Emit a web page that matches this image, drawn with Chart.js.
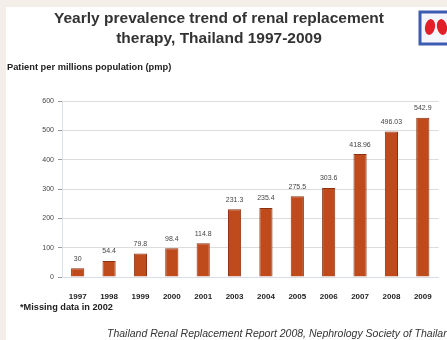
<!DOCTYPE html>
<html>
<head>
<meta charset="utf-8">
<script src="https://cdn.jsdelivr.net/npm/chart.js@4.4.0/dist/chart.umd.min.js"></script>
<style>
  html, body { margin: 0; padding: 0; }
  body { width: 447px; height: 340px; background: #f3efe8; position: relative; overflow: hidden;
         font-family: "Liberation Sans", Arial, sans-serif; }
  #slide { position: absolute; left: 6px; top: 7px; width: 441px; height: 333px; background: #fff; }
  #chartBox { position: absolute; left: 0; top: 0; width: 447px; height: 340px; }
  .txt { position: absolute; white-space: nowrap; color: #222; }
  #title { left: 0; width: 438px; top: 8px; text-align: center; font-weight: bold; font-size: 15.5px; line-height: 20px; color: #333; }
  #ycap { left: 7px; top: 62px; font-size: 9.3px; font-weight: bold; }
  #foot { left: 20px; top: 302px; font-size: 9.2px; font-weight: bold; }
  #src { left: 107px; top: 327px; font-size: 10.5px; font-style: italic; color: #333; }
</style>
</head>
<body>
<div id="slide"></div>
<div id="chartBox"><canvas id="c" width="447" height="340"></canvas></div>
<div class="txt" id="title">Yearly prevalence trend of renal replacement<br>therapy, Thailand 1997-2009</div>
<div class="txt" id="ycap">Patient per millions population (pmp)</div>
<div class="txt" id="foot">*Missing data in 2002</div>
<div class="txt" id="src">Thailand Renal Replacement Report 2008, Nephrology Society of Thailand</div>
<script>
const years = ['1997', '1998', '1999', '2000', '2001', '2003', '2004', '2005', '2006', '2007', '2008', '2009'];
const prevalence = [30, 54.4, 79.8, 98.4, 114.8, 231.3, 235.4, 275.5, 303.6, 418.96, 496.03, 542.9];
const valueLabels = ['30', '54.4', '79.8', '98.4', '114.8', '231.3', '235.4', '275.5', '303.6', '418.96', '496.03', '542.9'];
const yTicks = [0, 100, 200, 300, 400, 500, 600];

// value labels above each bar
const barLabels = {
  id: 'barLabels',
  afterDatasetsDraw(chart) {
    const ctx = chart.ctx;
    const meta = chart.getDatasetMeta(0);
    ctx.save();
    ctx.font = '7px "Liberation Sans", Arial, sans-serif';
    ctx.fillStyle = '#444';
    ctx.textAlign = 'center';
    ctx.textBaseline = 'bottom';
    meta.data.forEach((bar, i) => {
      ctx.fillText(valueLabels[i], bar.x, bar.y - 6);
    });
    ctx.restore();
  }
};

// small society logo in the top right corner
const logo = {
  id: 'logo',
  afterDraw(chart) {
    const ctx = chart.ctx;
    ctx.save();
    ctx.fillStyle = '#f4f6fb';
    ctx.fillRect(419, 11, 30, 34);
    ctx.strokeStyle = '#3b5cb0';
    ctx.lineWidth = 3;
    ctx.strokeRect(420, 12, 30, 32);
    ctx.fillStyle = '#e2202a';
    ctx.beginPath();
    ctx.ellipse(430, 27, 5, 8, 0.2, 0, Math.PI * 2);
    ctx.fill();
    ctx.beginPath();
    ctx.ellipse(442, 27, 5, 8, -0.2, 0, Math.PI * 2);
    ctx.fill();
    ctx.restore();
  }
};

new Chart(document.getElementById('c'), {
  type: 'bar',
  data: {
    labels: years,
    datasets: [{
      data: prevalence,
      backgroundColor: '#bf4a1c',
      borderColor: '#8a3110',
      borderWidth: 1,
      barPercentage: 0.42,
      categoryPercentage: 1
    }]
  },
  options: {
    responsive: false,
    animation: false,
    layout: { padding: { top: 101, right: 7, left: 0, bottom: 0 } },
    plugins: { legend: { display: false }, tooltip: { enabled: false } },
    scales: {
      x: {
        grid: { display: false, drawTicks: false },
        border: { color: '#d6dde6' },
        afterFit(scale) { scale.height = 63; },
        ticks: {
          padding: 15,
          color: '#222',
          font: { family: '"Liberation Sans", Arial, sans-serif', size: 8, weight: 'bold' }
        }
      },
      y: {
        min: 0,
        max: 600,
        afterFit(scale) { scale.width = 62; },
        afterBuildTicks(scale) { scale.ticks = yTicks.map(v => ({ value: v })); },
        grid: { color: '#dcdcdc', tickLength: 4, tickColor: '#999' },
        border: { color: '#dde3ea' },
        ticks: {
          padding: 4,
          color: '#444',
          font: { family: '"Liberation Sans", Arial, sans-serif', size: 7 }
        }
      }
    }
  },
  plugins: [barLabels, logo]
});
</script>
</body>
</html>
